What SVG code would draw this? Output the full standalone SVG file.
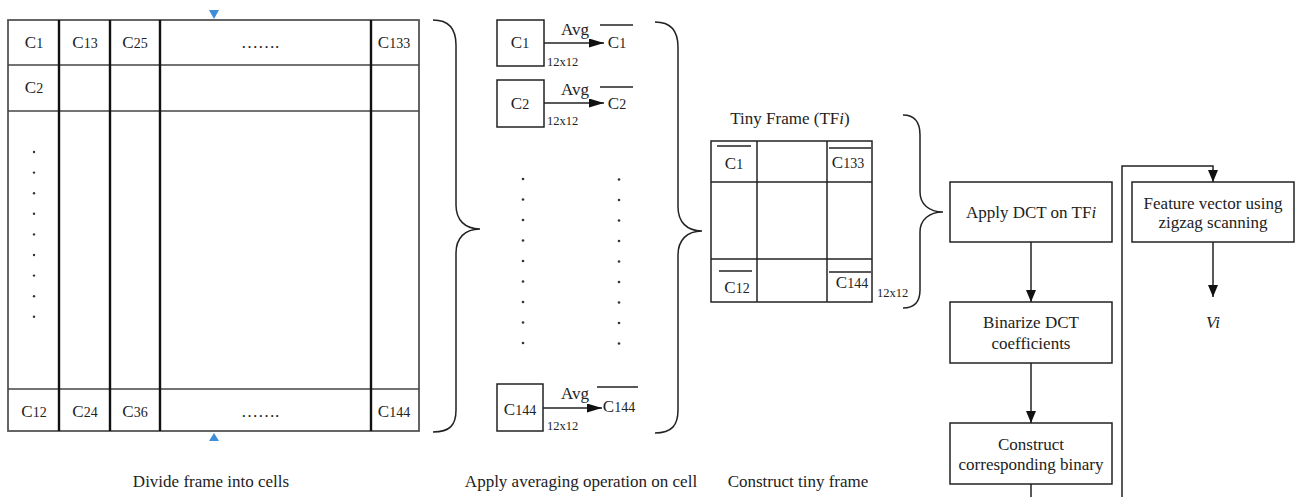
<svg xmlns="http://www.w3.org/2000/svg" width="1296" height="497" viewBox="0 0 1296 497">
  <style>
    text { font-family: "Liberation Serif", "Times New Roman", serif; fill: #222; }
    .t { font-size: 17px; text-anchor: middle; }
    .s { font-size: 14px; }
    .sm { font-size: 12.5px; }
    .grid-h { stroke: #444; stroke-width: 1.6; fill: none; }
    .grid-v { stroke: #111; stroke-width: 2.4; fill: none; }
    .box { stroke: #222; stroke-width: 1.5; fill: #fff; }
    .ln { stroke: #222; stroke-width: 1.5; fill: none; }
    .brace { stroke: #222; stroke-width: 1.5; fill: none; }
    .dot { fill: #333; }
    .mark { fill: #3d8fd8; }
  </style>
  <defs>
    <marker id="ah" viewBox="0 0 12 10" refX="12" refY="5" markerWidth="12" markerHeight="10" orient="auto" markerUnits="userSpaceOnUse">
      <path d="M0,0 L12,5 L0,10 z" fill="#111"/>
    </marker>
    <marker id="ahAvg" viewBox="0 0 15 9" refX="15" refY="4.5" markerWidth="15" markerHeight="9" orient="auto" markerUnits="userSpaceOnUse">
      <path d="M0,0 L15,4.5 L0,9 z" fill="#111"/>
    </marker>
  </defs>

  <!-- Frame divided into cells -->
  <g id="frame-grid">
    <rect x="8" y="20" width="411" height="411" fill="#fff" stroke="#555" stroke-width="1.8"/>
    <line class="grid-h" x1="8" y1="65" x2="419" y2="65"/>
    <line class="grid-h" x1="8" y1="111" x2="419" y2="111"/>
    <line class="grid-h" x1="8" y1="389" x2="419" y2="389"/>
    <line class="grid-v" x1="59" y1="20" x2="59" y2="431"/>
    <line class="grid-v" x1="110" y1="20" x2="110" y2="431"/>
    <line class="grid-v" x1="160" y1="20" x2="160" y2="431"/>
    <line class="grid-v" x1="371" y1="20" x2="371" y2="431"/>
    <text class="t" x="34" y="48">C<tspan class="s">1</tspan></text>
    <text class="t" x="85" y="48">C<tspan class="s">13</tspan></text>
    <text class="t" x="135" y="48">C<tspan class="s">25</tspan></text>
    <text class="t" x="260" y="48">…….</text>
    <text class="t" x="394" y="48">C<tspan class="s">133</tspan></text>
    <text class="t" x="34" y="93">C<tspan class="s">2</tspan></text>
    <text class="t" x="34" y="417">C<tspan class="s">12</tspan></text>
    <text class="t" x="85" y="417">C<tspan class="s">24</tspan></text>
    <text class="t" x="135" y="417">C<tspan class="s">36</tspan></text>
    <text class="t" x="260" y="417">…….</text>
    <text class="t" x="394" y="417">C<tspan class="s">144</tspan></text>
    <g class="dot">
      <circle cx="34" cy="152" r="1.2"/>
      <circle cx="34" cy="172.6" r="1.2"/>
      <circle cx="34" cy="193.2" r="1.2"/>
      <circle cx="34" cy="213.8" r="1.2"/>
      <circle cx="34" cy="234.4" r="1.2"/>
      <circle cx="34" cy="255" r="1.2"/>
      <circle cx="34" cy="275.6" r="1.2"/>
      <circle cx="34" cy="296.2" r="1.2"/>
      <circle cx="34" cy="316.8" r="1.2"/>
    </g>
    <polygon class="mark" points="209,10 219,10 214,19"/>
    <polygon class="mark" points="214,433 209,441 219,441"/>
    <text class="t" x="211" y="487">Divide frame into cells</text>
  </g>

  <!-- Averaging of each cell -->
  <g id="avg-c1">
    <rect class="box" x="497" y="20" width="47" height="46"/>
    <text class="t" x="520" y="48">C<tspan class="s">1</tspan></text>
    <text class="t" x="575" y="35">Avg</text>
    <text class="t" x="617" y="48">C<tspan class="s">1</tspan></text>
    <line class="ln" x1="600" y1="25" x2="633" y2="25"/>
    <text class="sm" x="547" y="66">12x12</text>
  </g>
  <g id="avg-c2">
    <rect class="box" x="497" y="80" width="47" height="47"/>
    <text class="t" x="520" y="109">C<tspan class="s">2</tspan></text>
    <text class="t" x="575" y="95">Avg</text>
    <text class="t" x="617" y="109">C<tspan class="s">2</tspan></text>
    <line class="ln" x1="600" y1="87" x2="633" y2="87"/>
    <text class="sm" x="547" y="125">12x12</text>
  </g>
  <g id="avg-c144">
    <rect class="box" x="497" y="384" width="46" height="47"/>
    <text class="t" x="520" y="415">C<tspan class="s">144</tspan></text>
    <text class="t" x="575" y="399">Avg</text>
    <text class="t" x="619" y="412">C<tspan class="s">144</tspan></text>
    <line class="ln" x1="597" y1="387" x2="638" y2="387"/>
    <text class="sm" x="547" y="430">12x12</text>
  </g>
  <g id="avg-dots" class="dot">
    <circle cx="523" cy="179" r="1.3"/>
    <circle cx="523" cy="199.5" r="1.3"/>
    <circle cx="523" cy="220" r="1.3"/>
    <circle cx="523" cy="240.5" r="1.3"/>
    <circle cx="523" cy="261" r="1.3"/>
    <circle cx="523" cy="281.5" r="1.3"/>
    <circle cx="523" cy="302" r="1.3"/>
    <circle cx="523" cy="322.5" r="1.3"/>
    <circle cx="523" cy="343" r="1.3"/>
    <circle cx="619" cy="179.5" r="1.3"/>
    <circle cx="619" cy="200" r="1.3"/>
    <circle cx="619" cy="220.5" r="1.3"/>
    <circle cx="619" cy="241" r="1.3"/>
    <circle cx="619" cy="261.5" r="1.3"/>
    <circle cx="619" cy="282" r="1.3"/>
    <circle cx="619" cy="302.5" r="1.3"/>
    <circle cx="619" cy="323" r="1.3"/>
    <circle cx="619" cy="343.5" r="1.3"/>
  </g>
  <text class="t" x="581" y="487">Apply averaging operation on cell</text>

  <!-- Tiny frame -->
  <g id="tiny-frame">
    <text class="t" x="790" y="124">Tiny Frame (TF<tspan font-style="italic">i</tspan>)</text>
    <rect class="box" x="711" y="141" width="161" height="161"/>
    <line class="ln" x1="757" y1="141" x2="757" y2="302"/>
    <line class="ln" x1="827" y1="141" x2="827" y2="302"/>
    <line class="ln" x1="711" y1="182" x2="872" y2="182"/>
    <line class="ln" x1="711" y1="259" x2="872" y2="259"/>
    <line class="ln" x1="717" y1="146" x2="751" y2="146"/>
    <text class="t" x="734" y="169">C<tspan class="s">1</tspan></text>
    <line class="ln" x1="829" y1="148" x2="871" y2="148"/>
    <text class="t" x="848" y="168">C<tspan class="s">133</tspan></text>
    <line class="ln" x1="719" y1="271" x2="752" y2="271"/>
    <text class="t" x="737" y="293">C<tspan class="s">12</tspan></text>
    <line class="ln" x1="829" y1="272" x2="871" y2="272"/>
    <text class="t" x="852" y="288">C<tspan class="s">144</tspan></text>
    <text class="sm" x="877" y="297">12x12</text>
  </g>
  <text class="t" x="798" y="487">Construct tiny frame</text>

  <!-- Processing steps -->
  <g id="step-dct">
    <rect class="box" x="950" y="182" width="162" height="60"/>
    <text class="t" x="1031" y="218">Apply DCT on TF<tspan font-style="italic">i</tspan></text>
  </g>
  <g id="step-binarize">
    <rect class="box" x="950" y="302" width="162" height="61"/>
    <text class="t" x="1031" y="328">Binarize DCT</text>
    <text class="t" x="1031" y="349">coefficients</text>
  </g>
  <g id="step-binary">
    <rect class="box" x="950" y="423" width="162" height="61"/>
    <text class="t" x="1031" y="450">Construct</text>
    <text class="t" x="1031" y="470">corresponding binary</text>
  </g>
  <g id="step-feature">
    <rect class="box" x="1132" y="182" width="162" height="60"/>
    <text class="t" x="1213" y="209">Feature vector using</text>
    <text class="t" x="1213" y="228">zigzag scanning</text>
  </g>
  <g id="output-vi">
    <text class="t" x="1213" y="328" font-style="italic">Vi</text>
  </g>

  <!-- Connectors -->
  <g id="connectors">
    <path class="brace" d="M433,20 C450,20 456,30 456,45 L456,205 C456,220 465,229 480,229 C465,229 456,238 456,253 L456,410 C456,425 450,432 433,432"/>
    <path class="brace" d="M655,22 C672,22 678,32 678,47 L678,207 C678,222 687,231 702,231 C687,231 678,240 678,255 L678,410 C678,425 672,433 655,433"/>
    <path class="brace" d="M903,115 C915,115 920,123 920,135 L920,192 C920,204 929,212 943,212 C929,212 920,220 920,232 L920,290 C920,302 915,308 903,308"/>
    <line class="ln" x1="544" y1="43" x2="604" y2="43" marker-end="url(#ahAvg)"/>
    <line class="ln" x1="544" y1="103" x2="604" y2="103" marker-end="url(#ahAvg)"/>
    <line class="ln" x1="543" y1="408" x2="602" y2="408" marker-end="url(#ahAvg)"/>
    <line class="ln" x1="1031" y1="242" x2="1031" y2="302" marker-end="url(#ah)"/>
    <line class="ln" x1="1031" y1="363" x2="1031" y2="423" marker-end="url(#ah)"/>
    <line class="ln" x1="1031" y1="484" x2="1031" y2="497"/>
    <path class="ln" d="M1122,497 L1122,166 L1213,166 L1213,182" marker-end="url(#ah)"/>
    <line class="ln" x1="1213" y1="242" x2="1213" y2="297" marker-end="url(#ah)"/>
  </g>
</svg>
